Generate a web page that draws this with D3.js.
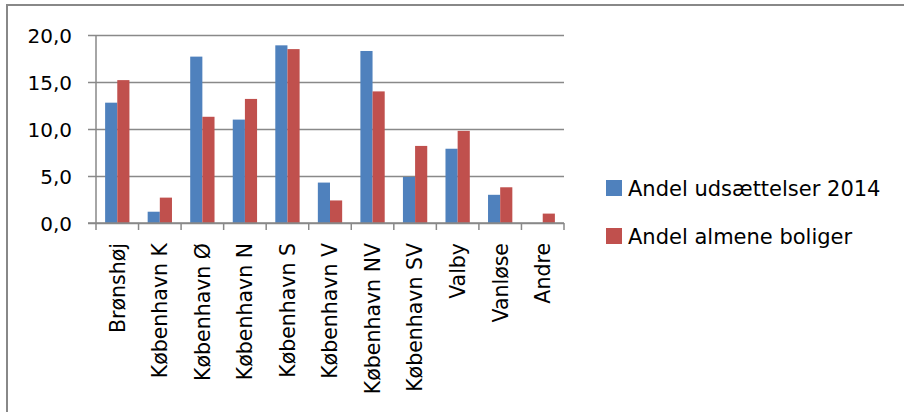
<!DOCTYPE html>
<html>
<head>
<meta charset="utf-8">
<script src="https://cdn.jsdelivr.net/npm/d3@7"></script>
<style>
  html, body { margin: 0; padding: 0; background: #fff; }
  svg { display: block; font-family: "DejaVu Sans", sans-serif; }
</style>
</head>
<body>
<div id="chart"></div>
<script>
// Data
const categories = ["Brønshøj", "København K", "København Ø", "København N", "København S",
  "København V", "København NV", "København SV", "Valby", "Vanløse", "Andre"];
const seriesNames = ["Andel udsættelser 2014", "Andel almene boliger"];
const udsaettelser = [12.8, 1.2, 17.7, 11.0, 18.9, 4.3, 18.3, 4.9, 7.9, 3.0, 0];
const almene = [15.2, 2.7, 11.3, 13.2, 18.5, 2.4, 14.0, 8.2, 9.8, 3.8, 1.0];
const yTicks = [0, 5, 10, 15, 20];
const colors = ["#4F81BD", "#C0504D"];

const width = 904, height = 412;
const plot = { left: 96, right: 564, top: 35, bottom: 223 };

const svg = d3.select("#chart").append("svg")
  .attr("width", width)
  .attr("height", height);

svg.append("rect").attr("width", width).attr("height", height).attr("fill", "#fff");

// Outer chart frame (only top and left edges are visible in the crop)
svg.append("path")
  .attr("d", "M7,412 V5 H904")
  .attr("fill", "none")
  .attr("stroke", "#888")
  .attr("stroke-width", 2);

const x = d3.scaleBand().domain(categories).range([plot.left, plot.right]);
const groupWidth = x.bandwidth() * 2 / 3.5; // gap width 150%
const xInner = d3.scaleBand().domain(seriesNames)
  .range([(x.bandwidth() - groupWidth) / 2, (x.bandwidth() + groupWidth) / 2]);
const y = d3.scaleLinear().domain([0, 20]).range([plot.bottom, plot.top]);

// Gridlines + y axis
const yAxis = d3.axisLeft(y)
  .tickValues(yTicks)
  .tickSize(-(plot.right - plot.left))
  .tickFormat(d => d3.format(".1f")(d).replace(".", ","));

const gy = svg.append("g")
  .attr("transform", "translate(" + plot.left + ",0)")
  .call(yAxis);
gy.select(".domain").remove();
gy.selectAll(".tick line")
  .attr("x1", -8)
  .attr("stroke", "#898989")
  .attr("stroke-width", 1.5);
gy.selectAll(".tick text")
  .attr("x", -24)
  .attr("dy", "0.36em")
  .attr("fill", "#000")
  .style("font-size", "20px")
  .style("font-family", "DejaVu Sans");

// Bars
const rows = [udsaettelser, almene];
seriesNames.forEach((name, si) => {
  svg.append("g")
    .selectAll("rect")
    .data(categories.map((c, i) => ({ c: c, v: rows[si][i] })))
    .enter()
    .append("rect")
    .attr("x", d => x(d.c) + xInner(name))
    .attr("y", d => y(d.v))
    .attr("width", xInner.bandwidth())
    .attr("height", d => y(0) - y(d.v))
    .attr("fill", colors[si]);
});

// y axis line
svg.append("line")
  .attr("x1", plot.left).attr("x2", plot.left)
  .attr("y1", plot.top).attr("y2", plot.bottom)
  .attr("stroke", "#898989").attr("stroke-width", 1.5);

// x axis line, ticks at category boundaries
svg.append("line")
  .attr("x1", plot.left - 8).attr("x2", plot.right)
  .attr("y1", plot.bottom).attr("y2", plot.bottom)
  .attr("stroke", "#898989").attr("stroke-width", 1.5);

const boundaries = categories.map(c => x(c)).concat([plot.right]);
svg.append("g")
  .selectAll("line")
  .data(boundaries)
  .enter()
  .append("line")
  .attr("x1", d => d).attr("x2", d => d)
  .attr("y1", plot.bottom).attr("y2", plot.bottom + 7)
  .attr("stroke", "#898989").attr("stroke-width", 1.5);

// Rotated category labels
svg.append("g")
  .selectAll("text")
  .data(categories)
  .enter()
  .append("text")
  .attr("transform", d => "translate(" + (x(d) + x.bandwidth() / 2) + "," + (plot.bottom + 20) + ") rotate(-90)")
  .attr("dy", "0.36em")
  .attr("text-anchor", "end")
  .style("font-size", "20.5px")
  .text(d => d);

// Legend
const legend = svg.append("g")
  .selectAll("g")
  .data(seriesNames)
  .enter()
  .append("g")
  .attr("transform", (d, i) => "translate(606," + (180 + i * 48) + ")");

legend.append("rect")
  .attr("width", 16).attr("height", 16)
  .attr("fill", (d, i) => colors[i]);

legend.append("text")
  .attr("x", 22)
  .attr("y", 16)
  .style("font-size", "21px")
  .text(d => d);
</script>
</body>
</html>
